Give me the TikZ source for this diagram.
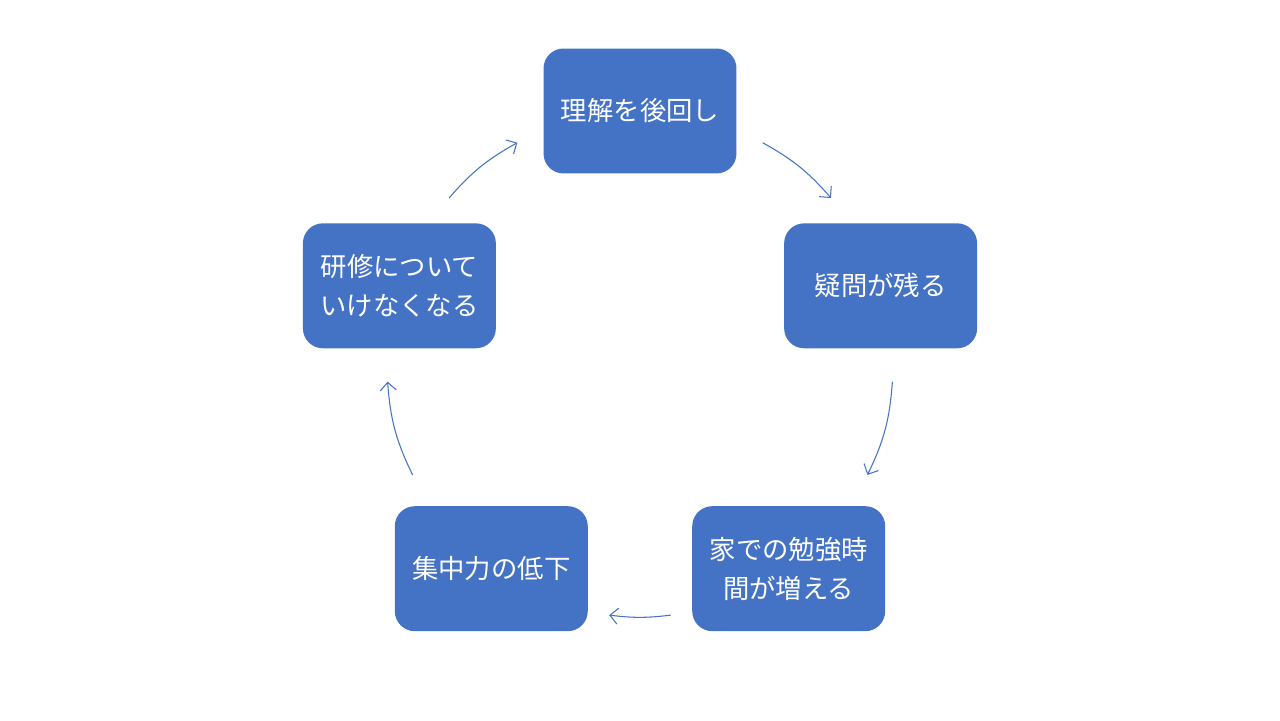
\documentclass[tikz,border=0pt]{standalone}
\usepackage{fontspec}
\setmainfont{Noto Sans CJK JP}
\usepackage{xcolor}
\usetikzlibrary{shapes,arrows.meta}
\definecolor{boxblue}{HTML}{4472C4}
\tikzstyle{cycbox} = [rectangle, rounded corners=0.4cm, fill=boxblue, text=white,
    minimum width=3.86cm, minimum height=2.5cm, align=center,
    font=\fontsize{15pt}{22pt}\selectfont]
\tikzstyle{cycline} = [draw=boxblue, line width=0.6pt,
    -{Straight Barb[length=1.6mm,width=3.2mm]}]

\begin{document}
\begin{tikzpicture}[x=0.02cm, y=0.02cm]
    \useasboundingbox (0,0) rectangle (1280,720);
    \coordinate (c) at (640,356);
    % Place nodes
    \node [cycbox] (rikai) at ([shift={(90:253)}]c) {理解を後回し};
    \node [cycbox] (gimon) at ([shift={(18:253)}]c) {疑問が残る};
    \node [cycbox] (benkyo) at ([shift={(-54:253)}]c) {家での勉強時\\間が増える};
    \node [cycbox] (shuchu) at ([shift={(-126:253)}]c) {集中力の低下};
    \node [cycbox] (kenshu) at ([shift={(162:253)}]c) {研修について\\いけなくなる};
    % Arrow ends
    \coordinate (a1s) at ([shift={(61:253)}]c);
    \coordinate (a1e) at ([shift={(41:253)}]c);
    \coordinate (a2s) at ([shift={(-4:253)}]c);
    \coordinate (a2e) at ([shift={(-26:253)}]c);
    \coordinate (a3s) at ([shift={(-83:253)}]c);
    \coordinate (a3e) at ([shift={(-97:253)}]c);
    \coordinate (a4s) at ([shift={(206:253)}]c);
    \coordinate (a4e) at ([shift={(184:253)}]c);
    \coordinate (a5s) at ([shift={(139:253)}]c);
    \coordinate (a5e) at ([shift={(119:253)}]c);
    % Draw edges
    \path [cycline] (a1s) to[bend left=10] (a1e);
    \path [cycline] (a2s) to[bend left=11] (a2e);
    \path [cycline] (a3s) to[bend left=7] (a3e);
    \path [cycline] (a4s) to[bend left=11] (a4e);
    \path [cycline] (a5s) to[bend left=10] (a5e);
\end{tikzpicture}
\end{document}
